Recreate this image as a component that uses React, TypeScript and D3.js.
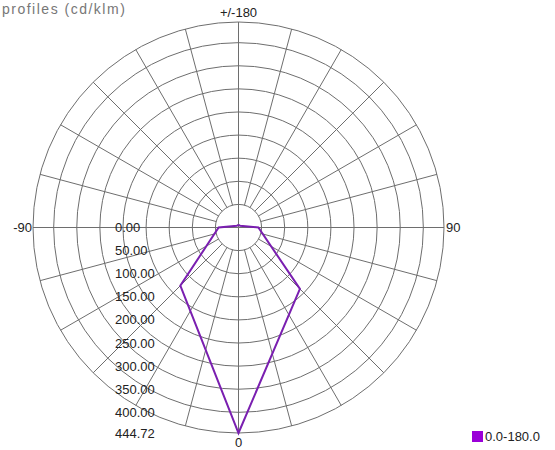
import React from "react";
import * as d3 from "d3";

// Radial scale ticks (cd/klm)
const ringValues = [0, 50, 100, 150, 200, 250, 300, 350, 400, 444.72];
const maxValue = 444.72;
// Angle labels
const angleLabels = [
  { angle: 0, text: "0" },
  { angle: 90, text: "90" },
  { angle: -90, text: "-90" },
  { angle: 180, text: "+/-180" },
];
// Spokes every 15 degrees
const spokeAngles = d3.range(0, 360, 15);
// Series C0-180 profile: angle (deg, 0 = down, + = right) and intensity
const seriesAngles = [-180, -135, -90, -45, 0, 45, 90, 135, 180];
const seriesValues = [6, 5, 43, 178, 444.72, 188, 43, 5, 6];
const seriesName = "0.0-180.0";
const title = "profiles (cd/klm)";

const W = 555;
const H = 450;
const cx = 238.5;
const cy = 227.5;
const R = 205.5;

export default function App() {
  const r = d3.scaleLinear().domain([0, maxValue]).range([0, R]);
  const toRad = (deg: number) => Math.PI - (deg * Math.PI) / 180; // d3 radial angle
  const pt = (deg: number, v: number) => {
    const a = toRad(deg);
    return [cx + r(v) * Math.sin(a), cy - r(v) * Math.cos(a)];
  };
  const line = d3
    .lineRadial<number>()
    .angle((_, i) => toRad(seriesAngles[i]))
    .radius((d) => r(d));
  const gridColor = "#6e6e6e";
  const labelFont = "'Liberation Sans', Arial, sans-serif";

  return (
    <svg
      width={W}
      height={H}
      style={{ position: "absolute", left: 0, top: 0, background: "#fff" }}
    >
      <rect x={0} y={0} width={W} height={H} fill="#fff" />
      <text
        x={2}
        y={14}
        fontFamily={labelFont}
        fontSize={14}
        letterSpacing={1.5}
        fill="#777"
      >
        {title}
      </text>
      <g>
        {ringValues.slice(1).map((v) => (
          <circle
            key={v}
            cx={cx}
            cy={cy}
            r={r(v)}
            fill="none"
            stroke={gridColor}
            strokeWidth={1}
          />
        ))}
        {spokeAngles.map((a) => {
          const main = a % 90 === 0;
          const [x1, y1] = main ? [cx, cy] : pt(a, ringValues[1]);
          const [x2, y2] = pt(a, maxValue);
          return (
            <line
              key={a}
              x1={x1}
              y1={y1}
              x2={x2}
              y2={y2}
              stroke={gridColor}
              strokeWidth={1}
            />
          );
        })}
      </g>
      {ringValues.map((v) => (
        <text
          key={v}
          x={115}
          y={cy + r(v)}
          dy="0.35em"
          fontFamily={labelFont}
          fontSize={13}
          fill="#222"
        >
          {v.toFixed(2)}
        </text>
      ))}
      {angleLabels.map((l) => {
        const [x, y] = pt(l.angle, maxValue);
        let tx = x;
        let ty = y;
        let anchor: "start" | "middle" | "end" = "middle";
        if (l.angle === 0) ty = y + 9;
        if (l.angle === 180) ty = y - 10;
        if (l.angle === 90) {
          tx = x + 2;
          anchor = "start";
        }
        if (l.angle === -90) {
          tx = x - 1;
          anchor = "end";
        }
        return (
          <text
            key={l.text}
            x={tx}
            y={ty}
            dy="0.35em"
            textAnchor={anchor}
            fontFamily={labelFont}
            fontSize={13}
            fill="#222"
          >
            {l.text}
          </text>
        );
      })}
      <path
        d={line(seriesValues) || ""}
        transform={`translate(${cx},${cy})`}
        fill="none"
        stroke="#7a1fb0"
        strokeWidth={2}
        strokeLinejoin="miter"
      />
      <g>
        <rect x={472} y={431} width={11} height={11} fill="#9a00d8" />
        <text
          x={485}
          y={436.5}
          dy="0.35em"
          fontFamily={labelFont}
          fontSize={13}
          fill="#222"
        >
          {seriesName}
        </text>
      </g>
    </svg>
  );
}
